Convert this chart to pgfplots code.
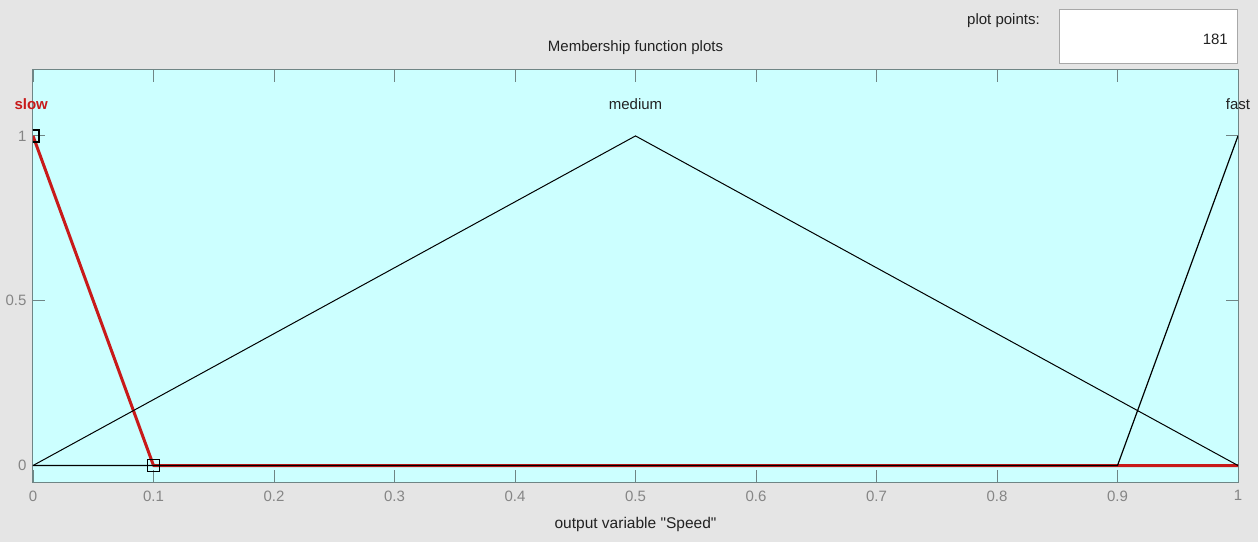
\documentclass[border=0pt]{standalone}
\usepackage{pgfplots}
\pgfplotsset{compat=1.18}
\usepackage{fontspec}
\setmainfont{Liberation Sans}
\newfontfamily\plainfont{Liberation Sans}
\definecolor{bgcol}{HTML}{E5E5E5}
\definecolor{axfill}{HTML}{CCFFFF}
\definecolor{axcol}{HTML}{6F8585}
\definecolor{tickcol}{HTML}{858585}
\definecolor{txtcol}{HTML}{222222}
\definecolor{slowred}{HTML}{C81A1A}
\definecolor{boxcol}{HTML}{A8A8A8}
\begin{document}
\begin{tikzpicture}
\fill[bgcol] (0,0) rectangle (1258pt,542pt);
\useasboundingbox (0,0) rectangle (1258pt,542pt);
\begin{axis}[
  at={(33pt,60pt)}, anchor=south west,
  scale only axis, width=1205pt, height=412pt,
  xmin=0, xmax=1, ymin=-0.05, ymax=1.2,
  axis background/.style={fill=axfill},
  axis line style={draw=axcol, line width=1pt},
  tick pos=both, tick align=inside,
  major tick length=12pt,
  every tick/.style={draw=axcol, line width=0.9pt},
  xtick={0,0.1,0.2,0.3,0.4,0.5,0.6,0.7,0.8,0.9,1},
  xticklabels={0,0.1,0.2,0.3,0.4,0.5,0.6,0.7,0.8,0.9,1},
  ytick={0,0.5,1},
  yticklabels={0,0.5,1},
  ticklabel style={text=tickcol, font=\fontsize{15}{18}\selectfont},
  xticklabel shift=5pt,
  yticklabel shift=3pt,
  clip mode=individual,
  clip marker paths=true,
]
\addplot[slowred, line width=3pt, line join=round] coordinates {(0,1) (0.1,0) (1,0)};
\addplot[black, line width=1pt] coordinates {(0,0) (0.5,1) (1,0)};
\addplot[black, line width=1.2pt] coordinates {(0,0) (0.9,0) (1,1)};
\addplot[only marks, mark=square, mark size=6pt, mark options={draw=black, line width=1.6pt, fill=none}] coordinates {(0,1) (0.1,0)};
\node[anchor=base, text=slowred, font=\fontsize{15}{18}\selectfont\bfseries, inner sep=0pt] at (axis cs:-0.0015,1.08) {slow};
\node[anchor=base, text=txtcol, font=\fontsize{15}{18}\selectfont, inner sep=0pt] at (axis cs:0.5,1.08) {medium};
\node[anchor=base, text=txtcol, font=\fontsize{15}{18}\selectfont, inner sep=0pt] at (axis cs:1,1.08) {fast};
\end{axis}
\node[anchor=base, text=txtcol, font=\fontsize{15}{18}\selectfont, inner sep=0pt] at (635.5pt,490pt) {Membership function plots};
\node[anchor=base, text=txtcol, font=\plainfont\fontsize{15.5}{18}\selectfont, inner sep=0pt] at (635.5pt,14pt) {output variable "Speed"};
\draw[fill=white, draw=boxcol, line width=1pt] (1059pt,478pt) rectangle (1237pt,532pt);
\node[anchor=base west, text=txtcol, font=\fontsize{15}{18}\selectfont, inner sep=0pt] at (967pt,517pt) {plot points:};
\node[anchor=base east, text=txtcol, font=\fontsize{15}{18}\selectfont, inner sep=0pt] at (1228pt,497pt) {181};
\end{tikzpicture}
\end{document}
